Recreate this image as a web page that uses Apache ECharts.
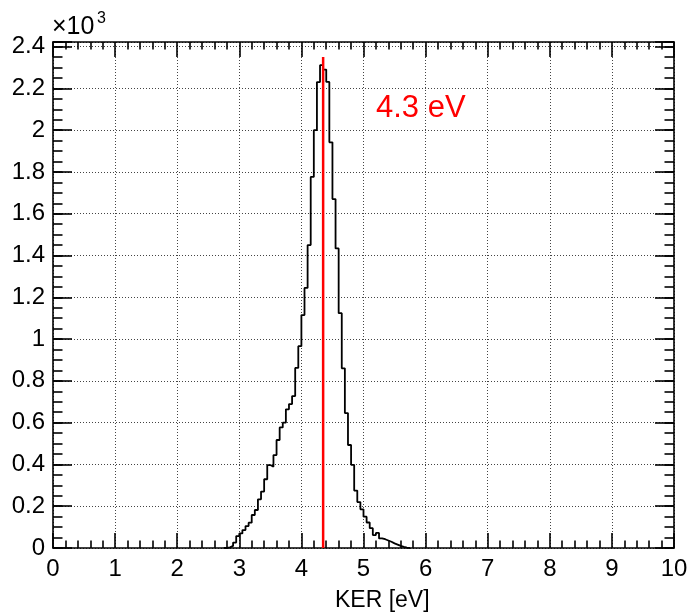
<!DOCTYPE html>
<html>
<head>
<meta charset="utf-8">
<script src="https://cdn.jsdelivr.net/npm/echarts@6/dist/echarts.min.js"></script>
<style>
  html, body { margin: 0; padding: 0; background: #fff; }
  #chart { width: 691px; height: 615px; }
</style>
</head>
<body>
<div id="chart"></div>
<script>
// Kinetic energy release histogram, 0.05 eV bins starting at 2.75 eV
const binStart = 2.75;
const binWidth = 0.05;
const counts = [
  0, 3, 10, 26, 57, 70, 86, 105, 121, 158,
  182, 233, 270, 329, 397, 389, 445, 517, 577, 600,
  664, 689, 727, 862, 966, 1115, 1245, 1450, 1776, 2000,
  2230, 2311, 2290, 2231, 1942, 1670, 1434, 1124, 860, 646,
  493, 398, 275, 220, 185, 150, 122, 95, 62, 72,
  46, 42, 36, 30, 22, 16, 10, 5, 2, 0
];
const xTickLabels = ['0', '1', '2', '3', '4', '5', '6', '7', '8', '9', '10'];
const yTickLabels = ['0', '0.2', '0.4', '0.6', '0.8', '1', '1.2', '1.4', '1.6', '1.8', '2', '2.2', '2.4'];
const markerEnergy = 4.35;   // vertical marker position (eV)
const markerHeight = 2350;   // marker top (counts)
const markerText = '4.3 eV';
const xTitle = 'KER [eV]';
const yScaleText = '×10';
const yScaleExp = '3';

const X_MIN = 0, X_MAX = 10;
const Y_MIN = 0, Y_MAX = 2422;
const FONT = 'Liberation Sans';

// step outline: each point is a bin's lower edge, closed at the last upper edge
const histPoints = counts.map((c, i) => [+(binStart + i * binWidth).toFixed(3), c]);
histPoints.push([+(binStart + counts.length * binWidth).toFixed(3), 0]);

const markerPoints = [[markerEnergy, 0], [markerEnergy, markerHeight]];

const black = '#000';
const gridLine = { show: true, lineStyle: { color: '#444', width: 1, type: [1, 2] } };

function xAxisDef(pos, labels) {
  return {
    type: 'value', position: pos, min: X_MIN, max: X_MAX, interval: 1,
    axisLine: { show: true, onZero: false, lineStyle: { color: black, width: 1.6 } },
    axisTick: { show: true, inside: true, length: 15, lineStyle: { color: black, width: 1.6 } },
    minorTick: { show: true, splitNumber: 5, length: 7.5, lineStyle: { color: black, width: 1.6 } },
    splitLine: labels ? gridLine : { show: false },
    axisLabel: labels ? {
      show: true, margin: 9, color: black, fontFamily: FONT, fontSize: 24,
      formatter: v => xTickLabels[Math.round(v)] ?? ''
    } : { show: false }
  };
}

function yAxisDef(pos, step, tickLen, labels) {
  return {
    type: 'value', position: pos, min: Y_MIN, max: Y_MAX, interval: step,
    axisLine: { show: tickLen > 10, onZero: false, lineStyle: { color: black, width: 1.6 } },
    axisTick: { show: true, inside: true, length: tickLen, lineStyle: { color: black, width: 1.6 } },
    splitLine: labels ? gridLine : { show: false },
    axisLabel: labels ? {
      show: true, margin: 8, color: black, fontFamily: FONT, fontSize: 24,
      formatter: v => (v % 200 === 0 ? (yTickLabels[v / 200] ?? '') : '')
    } : { show: false }
  };
}

const chart = echarts.init(document.getElementById('chart'), null, { renderer: 'canvas' });
chart.setOption({
  animation: false,
  backgroundColor: '#fff',
  grid: { left: 53, right: 17, top: 42, bottom: 67, containLabel: false },
  xAxis: [xAxisDef('bottom', true), xAxisDef('top', false)],
  yAxis: [
    yAxisDef('left', 200, 19, true),
    yAxisDef('right', 200, 19, false),
    yAxisDef('left', 50, 9.5, false),
    yAxisDef('right', 50, 9.5, false)
  ],
  series: [
    {
      type: 'line', xAxisIndex: 0, yAxisIndex: 0, step: 'end',
      data: histPoints, showSymbol: false, symbol: 'none',
      lineStyle: { color: black, width: 1.8 }, z: 3
    },
    {
      type: 'line', xAxisIndex: 0, yAxisIndex: 0,
      data: markerPoints, showSymbol: false, symbol: 'none',
      lineStyle: { color: '#ff0000', width: 2.5 }, z: 4
    }
  ],
  graphic: [
    { type: 'text', left: 52, top: 15, style: { text: yScaleText, fontFamily: FONT, fontSize: 25, fill: black } },
    { type: 'text', left: 97, top: 11, style: { text: yScaleExp, fontFamily: FONT, fontSize: 16, fill: black } },
    { type: 'text', left: 376, top: 93, style: { text: markerText, fontFamily: FONT, fontSize: 31, fill: '#ff0000' } },
    { type: 'text', left: 335, top: 589, style: { text: xTitle, fontFamily: FONT, fontSize: 23, fill: black } }
  ]
});
</script>
</body>
</html>
